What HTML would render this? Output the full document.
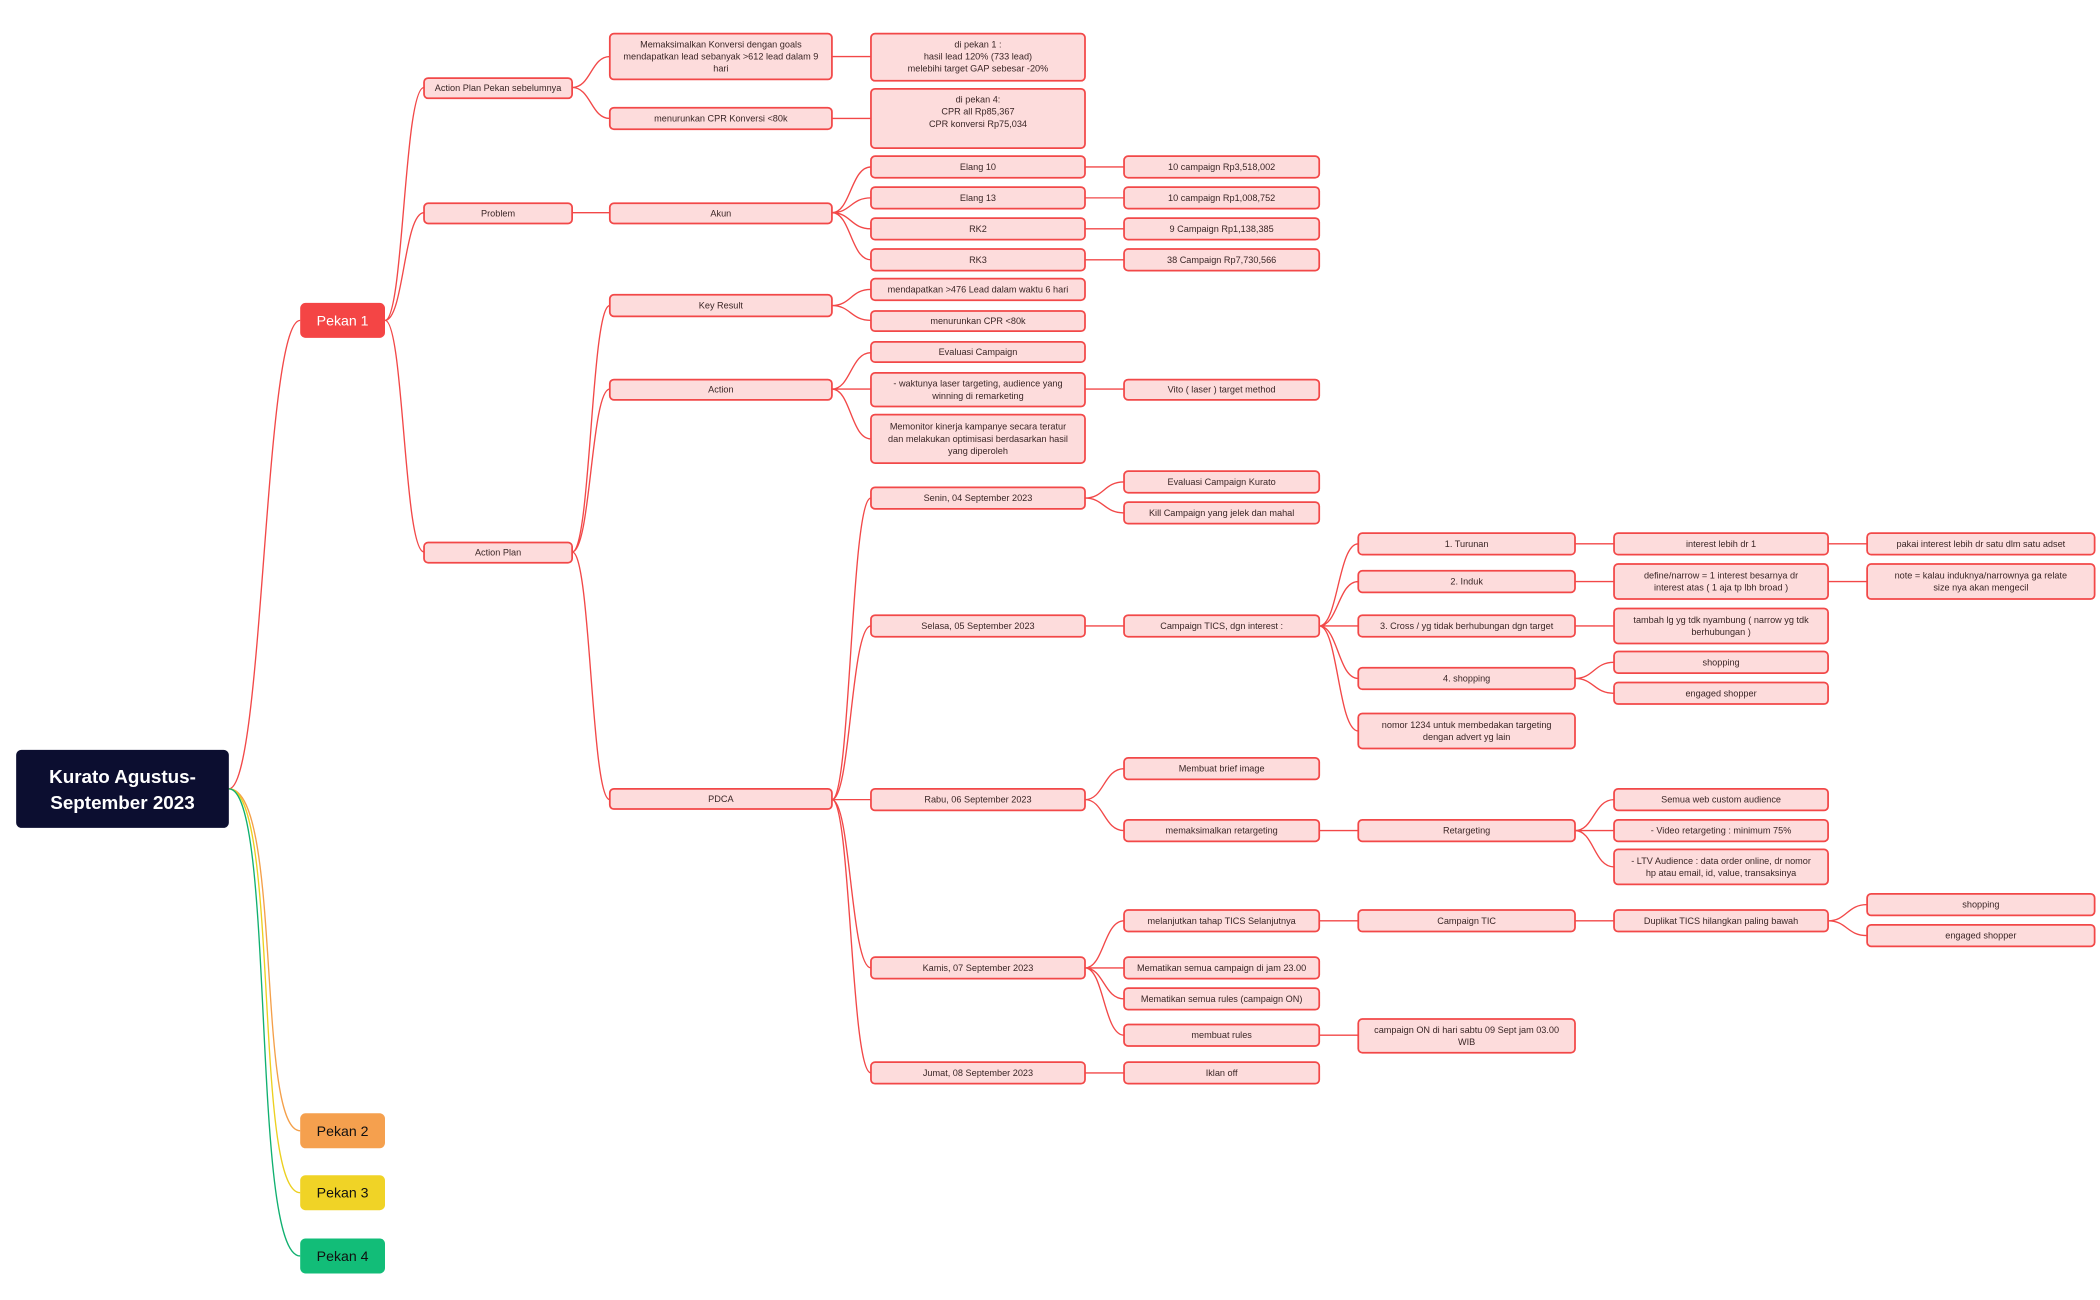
<!DOCTYPE html>
<html><head><meta charset="utf-8"><style>
html,body{margin:0;padding:0;background:#fff;width:2100px;height:1300px;overflow:hidden}
svg{display:block}
.n{fill:#fddcdc;stroke:#f24848;stroke-width:1.3}
.t{font-family:"Liberation Sans",sans-serif;font-size:6.8px;fill:#3a2626;text-anchor:middle;dominant-baseline:central}
.e{fill:none;stroke:#f24848;stroke-width:1}
</style></head><body>
<svg width="2100" height="1300" viewBox="0 0 1560 965.7" preserveAspectRatio="none">
<!-- edges -->
<path class="e" d="M170 586 C196 586 196 238 223 238"/>
<path fill="none" stroke="#f4a04a" stroke-width="1" d="M170 586 C210 586 190 840 223 840"/>
<path fill="none" stroke="#ecd020" stroke-width="1" d="M170 586 C208 586 188 886 223 886"/>
<path fill="none" stroke="#10b070" stroke-width="1" d="M170 586 C205 586 186 933 223 933"/>
<path class="e" d="M286 238 C300 238 300 65 315 65 M286 238 C300 238 300 158 315 158 M286 238 C300 238 300 410 315 410"/>
<path class="e" d="M425 65 C439 65 439 42 453 42 M425 65 C439 65 439 88 453 88 M425 158 L453 158 M425 410 C439 410 439 227 453 227 M425 410 C439 410 439 289 453 289 M425 410 C439 410 439 594 453 594"/>
<path class="e" d="M618 42 L647 42 M618 88 L647 88
M618 158 C632 158 632 124 647 124 M618 158 C632 158 632 147 647 147 M618 158 C632 158 632 170 647 170 M618 158 C632 158 632 193 647 193
M618 227 C632 227 632 215 647 215 M618 227 C632 227 632 238 647 238
M618 289 C632 289 632 262 647 262 M618 289 L647 289 M618 289 C632 289 632 326 647 326
M618 594 C632 594 632 370 647 370 M618 594 C632 594 632 465 647 465 M618 594 L647 594 M618 594 C632 594 632 719 647 719 M618 594 C632 594 632 797 647 797"/>
<path class="e" d="M806 124 L835 124 M806 147 L835 147 M806 170 L835 170 M806 193 L835 193 M806 289 L835 289
M806 370 C820 370 820 358 835 358 M806 370 C820 370 820 381 835 381 M806 465 L835 465
M806 594 C820 594 820 571 835 571 M806 594 C820 594 820 617 835 617
M806 719 C820 719 820 684 835 684 M806 719 L835 719 M806 719 C820 719 820 742 835 742 M806 719 C820 719 820 769 835 769 M806 797 L835 797"/>
<path class="e" d="M980 465 C994 465 994 404 1009 404 M980 465 C994 465 994 432 1009 432 M980 465 L1009 465 M980 465 C994 465 994 504 1009 504 M980 465 C994 465 994 543 1009 543
M980 617 L1009 617 M980 684 L1009 684 M980 769 L1009 769"/>
<path class="e" d="M1170 404 L1199 404 M1170 432 L1199 432 M1170 465 L1199 465 M1170 504 C1184 504 1184 492 1199 492 M1170 504 C1184 504 1184 515 1199 515
M1170 617 C1184 617 1184 594 1199 594 M1170 617 L1199 617 M1170 617 C1184 617 1184 644 1199 644 M1170 684 L1199 684
M1358 404 L1387 404 M1358 432 L1387 432 M1358 684 C1372 684 1372 672 1387 672 M1358 684 C1372 684 1372 695 1387 695"/>

<!-- root & pekan -->
<rect x="12" y="557" width="158" height="58" rx="4" fill="#0c0e30"/>
<text x="91" y="577" font-family="Liberation Sans,sans-serif" font-weight="bold" font-size="14" fill="#fff" text-anchor="middle" dominant-baseline="central">Kurato Agustus-</text>
<text x="91" y="596" font-family="Liberation Sans,sans-serif" font-weight="bold" font-size="14" fill="#fff" text-anchor="middle" dominant-baseline="central">September 2023</text>
<rect x="223" y="225" width="63" height="26" rx="4" fill="#f44545"/>
<text x="254.5" y="238" font-family="Liberation Sans,sans-serif" font-size="10.5" fill="#fff" text-anchor="middle" dominant-baseline="central">Pekan 1</text>
<rect x="223" y="827" width="63" height="26" rx="4" fill="#f5a04e"/>
<text x="254.5" y="840" font-family="Liberation Sans,sans-serif" font-size="10.5" fill="#111" text-anchor="middle" dominant-baseline="central">Pekan 2</text>
<rect x="223" y="873" width="63" height="26" rx="4" fill="#f0d326"/>
<text x="254.5" y="886" font-family="Liberation Sans,sans-serif" font-size="10.5" fill="#111" text-anchor="middle" dominant-baseline="central">Pekan 3</text>
<rect x="223" y="920" width="63" height="26" rx="4" fill="#12bd78"/>
<text x="254.5" y="933" font-family="Liberation Sans,sans-serif" font-size="10.5" fill="#111" text-anchor="middle" dominant-baseline="central">Pekan 4</text>

<!-- level 2 -->
<rect class="n" x="315" y="58" width="110" height="15" rx="3"/><text class="t" x="370" y="65.5">Action Plan Pekan sebelumnya</text>
<rect class="n" x="315" y="151" width="110" height="15" rx="3"/><text class="t" x="370" y="158.5">Problem</text>
<rect class="n" x="315" y="403" width="110" height="15" rx="3"/><text class="t" x="370" y="410.5">Action Plan</text>

<!-- level 3 -->
<rect class="n" x="453" y="25" width="165" height="34" rx="3"/><text class="t" x="535.5" y="33">Memaksimalkan Konversi dengan goals</text><text class="t" x="535.5" y="42">mendapatkan lead sebanyak &gt;612 lead dalam 9</text><text class="t" x="535.5" y="51">hari</text>
<rect class="n" x="453" y="80" width="165" height="16" rx="3"/><text class="t" x="535.5" y="88">menurunkan CPR Konversi &lt;80k</text>
<rect class="n" x="453" y="151" width="165" height="15" rx="3"/><text class="t" x="535.5" y="158.5">Akun</text>
<rect class="n" x="453" y="219" width="165" height="16" rx="3"/><text class="t" x="535.5" y="227">Key Result</text>
<rect class="n" x="453" y="282" width="165" height="15" rx="3"/><text class="t" x="535.5" y="289.5">Action</text>
<rect class="n" x="453" y="586" width="165" height="15" rx="3"/><text class="t" x="535.5" y="593.5">PDCA</text>

<!-- level 4 -->
<rect class="n" x="647" y="25" width="159" height="35" rx="3"/><text class="t" x="726.5" y="33">di pekan 1 :</text><text class="t" x="726.5" y="42">hasil lead 120% (733 lead)</text><text class="t" x="726.5" y="51">melebihi target GAP sebesar -20%</text>
<rect class="n" x="647" y="66" width="159" height="44" rx="3"/><text class="t" x="726.5" y="74">di pekan 4:</text><text class="t" x="726.5" y="83">CPR all Rp85,367</text><text class="t" x="726.5" y="92">CPR konversi Rp75,034</text>
<rect class="n" x="647" y="116" width="159" height="16" rx="3"/><text class="t" x="726.5" y="124">Elang 10</text>
<rect class="n" x="647" y="139" width="159" height="16" rx="3"/><text class="t" x="726.5" y="147">Elang 13</text>
<rect class="n" x="647" y="162" width="159" height="16" rx="3"/><text class="t" x="726.5" y="170">RK2</text>
<rect class="n" x="647" y="185" width="159" height="16" rx="3"/><text class="t" x="726.5" y="193">RK3</text>
<rect class="n" x="647" y="207" width="159" height="16" rx="3"/><text class="t" x="726.5" y="215">mendapatkan &gt;476 Lead dalam waktu 6 hari</text>
<rect class="n" x="647" y="231" width="159" height="15" rx="3"/><text class="t" x="726.5" y="238.5">menurunkan CPR &lt;80k</text>
<rect class="n" x="647" y="254" width="159" height="15" rx="3"/><text class="t" x="726.5" y="261.5">Evaluasi Campaign</text>
<rect class="n" x="647" y="277" width="159" height="25" rx="3"/><text class="t" x="726.5" y="285">- waktunya laser targeting, audience yang</text><text class="t" x="726.5" y="294">winning di remarketing</text>
<rect class="n" x="647" y="308" width="159" height="36" rx="3"/><text class="t" x="726.5" y="317">Memonitor kinerja kampanye secara teratur</text><text class="t" x="726.5" y="326">dan melakukan optimisasi berdasarkan hasil</text><text class="t" x="726.5" y="335">yang diperoleh</text>
<rect class="n" x="647" y="362" width="159" height="16" rx="3"/><text class="t" x="726.5" y="370">Senin, 04 September 2023</text>
<rect class="n" x="647" y="457" width="159" height="16" rx="3"/><text class="t" x="726.5" y="465">Selasa, 05 September 2023</text>
<rect class="n" x="647" y="586" width="159" height="16" rx="3"/><text class="t" x="726.5" y="594">Rabu, 06 September 2023</text>
<rect class="n" x="647" y="711" width="159" height="16" rx="3"/><text class="t" x="726.5" y="719">Kamis, 07 September 2023</text>
<rect class="n" x="647" y="789" width="159" height="16" rx="3"/><text class="t" x="726.5" y="797">Jumat, 08 September 2023</text>

<!-- level 5 -->
<rect class="n" x="835" y="116" width="145" height="16" rx="3"/><text class="t" x="907.5" y="124">10 campaign Rp3,518,002</text>
<rect class="n" x="835" y="139" width="145" height="16" rx="3"/><text class="t" x="907.5" y="147">10 campaign Rp1,008,752</text>
<rect class="n" x="835" y="162" width="145" height="16" rx="3"/><text class="t" x="907.5" y="170">9 Campaign Rp1,138,385</text>
<rect class="n" x="835" y="185" width="145" height="16" rx="3"/><text class="t" x="907.5" y="193">38 Campaign Rp7,730,566</text>
<rect class="n" x="835" y="282" width="145" height="15" rx="3"/><text class="t" x="907.5" y="289.5">Vito ( laser ) target method</text>
<rect class="n" x="835" y="350" width="145" height="16" rx="3"/><text class="t" x="907.5" y="358">Evaluasi Campaign Kurato</text>
<rect class="n" x="835" y="373" width="145" height="16" rx="3"/><text class="t" x="907.5" y="381">Kill Campaign yang jelek dan mahal</text>
<rect class="n" x="835" y="457" width="145" height="16" rx="3"/><text class="t" x="907.5" y="465">Campaign TICS, dgn interest :</text>
<rect class="n" x="835" y="563" width="145" height="16" rx="3"/><text class="t" x="907.5" y="571">Membuat brief image</text>
<rect class="n" x="835" y="609" width="145" height="16" rx="3"/><text class="t" x="907.5" y="617">memaksimalkan retargeting</text>
<rect class="n" x="835" y="676" width="145" height="16" rx="3"/><text class="t" x="907.5" y="684">melanjutkan tahap TICS Selanjutnya</text>
<rect class="n" x="835" y="711" width="145" height="16" rx="3"/><text class="t" x="907.5" y="719">Mematikan semua campaign di jam 23.00</text>
<rect class="n" x="835" y="734" width="145" height="16" rx="3"/><text class="t" x="907.5" y="742">Mematikan semua rules (campaign ON)</text>
<rect class="n" x="835" y="761" width="145" height="16" rx="3"/><text class="t" x="907.5" y="769">membuat rules</text>
<rect class="n" x="835" y="789" width="145" height="16" rx="3"/><text class="t" x="907.5" y="797">Iklan off</text>

<!-- level 6 -->
<rect class="n" x="1009" y="396" width="161" height="16" rx="3"/><text class="t" x="1089.5" y="404">1. Turunan</text>
<rect class="n" x="1009" y="424" width="161" height="16" rx="3"/><text class="t" x="1089.5" y="432">2. Induk</text>
<rect class="n" x="1009" y="457" width="161" height="16" rx="3"/><text class="t" x="1089.5" y="465">3. Cross /  yg tidak berhubungan dgn target</text>
<rect class="n" x="1009" y="496" width="161" height="16" rx="3"/><text class="t" x="1089.5" y="504">4. shopping</text>
<rect class="n" x="1009" y="530" width="161" height="26" rx="3"/><text class="t" x="1089.5" y="538.5">nomor 1234 untuk membedakan targeting</text><text class="t" x="1089.5" y="547.5">dengan advert yg lain</text>
<rect class="n" x="1009" y="609" width="161" height="16" rx="3"/><text class="t" x="1089.5" y="617">Retargeting</text>
<rect class="n" x="1009" y="676" width="161" height="16" rx="3"/><text class="t" x="1089.5" y="684">Campaign TIC</text>
<rect class="n" x="1009" y="757" width="161" height="25" rx="3"/><text class="t" x="1089.5" y="765">campaign ON di hari sabtu 09 Sept jam 03.00</text><text class="t" x="1089.5" y="774">WIB</text>

<!-- level 7 -->
<rect class="n" x="1199" y="396" width="159" height="16" rx="3"/><text class="t" x="1278.5" y="404">interest lebih dr 1</text>
<rect class="n" x="1199" y="419" width="159" height="26" rx="3"/><text class="t" x="1278.5" y="427.5">define/narrow = 1 interest besarnya dr</text><text class="t" x="1278.5" y="436.5">interest atas ( 1 aja tp lbh broad )</text>
<rect class="n" x="1199" y="452" width="159" height="26" rx="3"/><text class="t" x="1278.5" y="460.5">tambah lg yg tdk nyambung ( narrow yg tdk</text><text class="t" x="1278.5" y="469.5">berhubungan )</text>
<rect class="n" x="1199" y="484" width="159" height="16" rx="3"/><text class="t" x="1278.5" y="492">shopping</text>
<rect class="n" x="1199" y="507" width="159" height="16" rx="3"/><text class="t" x="1278.5" y="515">engaged shopper</text>
<rect class="n" x="1199" y="586" width="159" height="16" rx="3"/><text class="t" x="1278.5" y="594">Semua web custom audience</text>
<rect class="n" x="1199" y="609" width="159" height="16" rx="3"/><text class="t" x="1278.5" y="617">- Video retargeting : minimum 75%</text>
<rect class="n" x="1199" y="631" width="159" height="26" rx="3"/><text class="t" x="1278.5" y="639.5">- LTV Audience : data order online, dr nomor</text><text class="t" x="1278.5" y="648.5">hp atau email, id, value, transaksinya</text>
<rect class="n" x="1199" y="676" width="159" height="16" rx="3"/><text class="t" x="1278.5" y="684">Duplikat TICS hilangkan paling bawah</text>

<!-- level 8 -->
<rect class="n" x="1387" y="396" width="169" height="16" rx="3"/><text class="t" x="1471.5" y="404">pakai interest lebih dr satu dlm satu adset</text>
<rect class="n" x="1387" y="419" width="169" height="26" rx="3"/><text class="t" x="1471.5" y="427.5">note = kalau induknya/narrownya ga relate</text><text class="t" x="1471.5" y="436.5">size nya akan mengecil</text>
<rect class="n" x="1387" y="664" width="169" height="16" rx="3"/><text class="t" x="1471.5" y="672">shopping</text>
<rect class="n" x="1387" y="687" width="169" height="16" rx="3"/><text class="t" x="1471.5" y="695">engaged shopper</text>
</svg>
</body></html>
